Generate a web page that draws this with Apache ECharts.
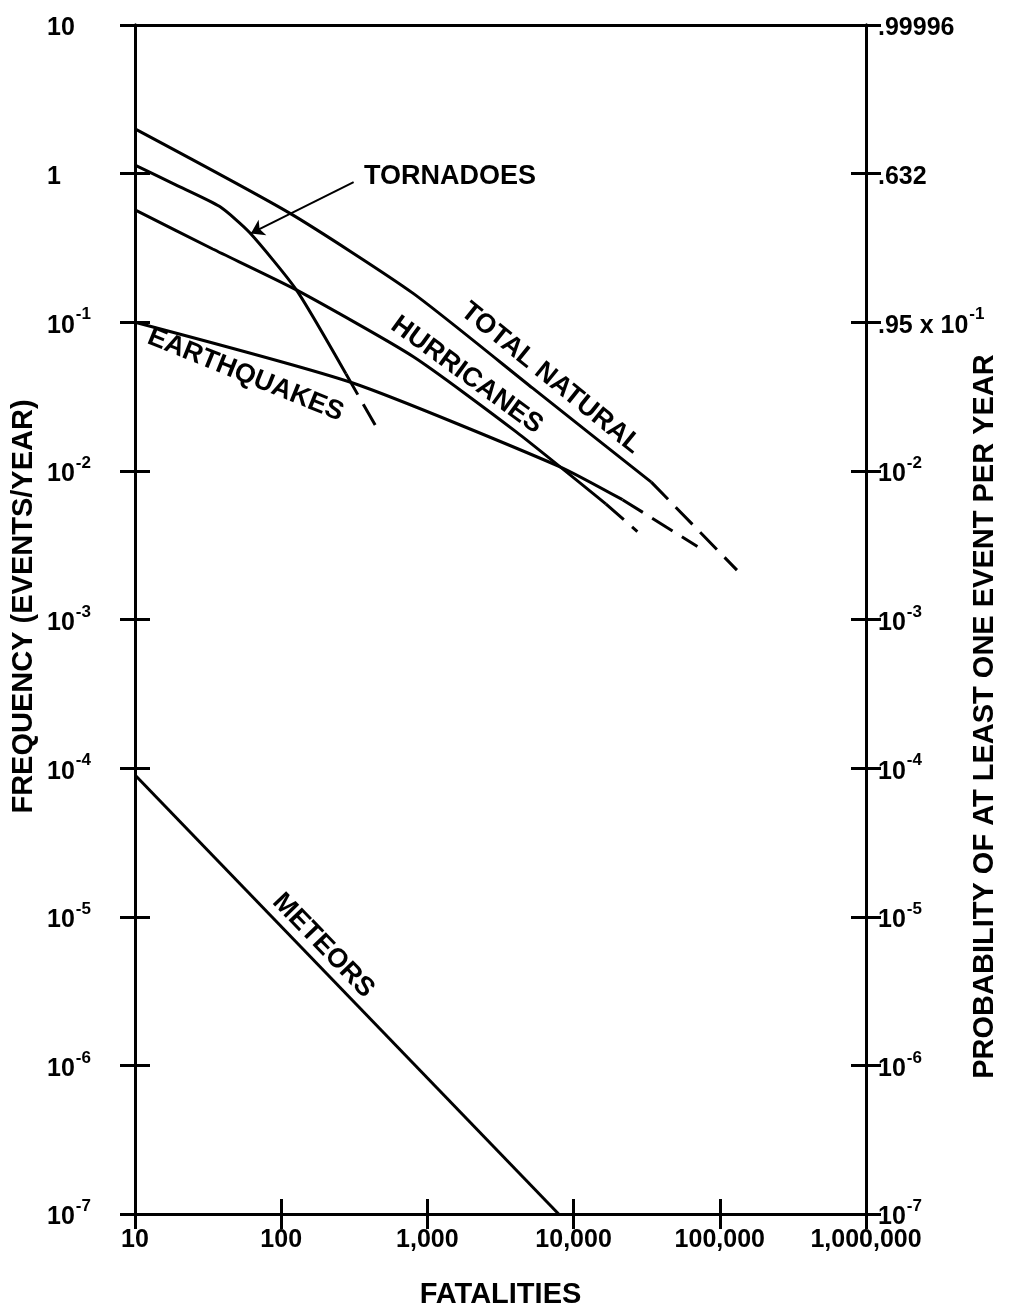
<!DOCTYPE html>
<html>
<head>
<meta charset="utf-8">
<script src="https://cdn.jsdelivr.net/npm/echarts@6/dist/echarts.min.js"></script>
<style>
  html, body { margin: 0; padding: 0; background: #fff; }
  #chart { width: 1020px; height: 1310px; }
</style>
</head>
<body>
<div id="chart"></div>
<script>
// fatalities (x) vs frequency in events/year (y)
const totalNaturalSolid = [[10, 2.0], [115, 0.54], [795, 0.157], [5250, 0.036], [34000, 0.0084]];
const totalNaturalDashed = [[34000, 0.0084], [131000, 0.00215]];
const tornadoesSolid = [[10, 1.14], [19, 0.84], [38, 0.6], [61, 0.4], [127, 0.165], [277, 0.045]];
const tornadoesDashed = [[277, 0.045], [453, 0.0193]];
const hurricanesSolid = [[10, 0.57], [34, 0.311], [127, 0.165], [802, 0.0586], [4050, 0.0183], [16600, 0.006]];
const hurricanesDashed = [[16600, 0.006], [27300, 0.0039]];
const earthquakesSolid = [[10, 0.1], [309, 0.039], [8000, 0.0107], [21600, 0.0064]];
const earthquakesDashed = [[21600, 0.0064], [70300, 0.0031]];
const meteors = [[10, 9e-5], [7900, 1e-7]];

const xTickLabels = ['10', '100', '1,000', '10,000', '100,000', '1,000,000'];
const rightTickLabels = {
  '1': '{b|.99996}',
  '0': '{b|.632}',
  '-1': '{b|.95 x 10}{s|-1}'
};

// curve names placed along the curves
const curveNames = [
  { name: 'TOTAL NATURAL', at: [7000, 0.042], rotate: -39 },
  { name: 'HURRICANES', at: [1860, 0.044], rotate: -36 },
  { name: 'EARTHQUAKES', at: [57, 0.0442], rotate: -22 },
  { name: 'METEORS', at: [194, 6.4e-6], rotate: -46 },
  { name: 'TORNADOES', at: [369, 0.95], rotate: 0 }
];
const tornadoArrow = [[313, 0.877], [62, 0.396]];

const FONT = 'Liberation Sans';
const black = '#000';
const lineW = 3;

const rich = {
  b: { fontFamily: FONT, fontWeight: 'bold', fontSize: 25, color: black, lineHeight: 32, verticalAlign: 'bottom' },
  s: { fontFamily: FONT, fontWeight: 'bold', fontSize: 17, color: black, lineHeight: 32, verticalAlign: 'top', padding: [0, 0, 0, 1] }
};

function exp10(v) { return Math.round(Math.log10(v)); }

function leftLabel(v) {
  const e = exp10(v);
  if (e === 1) return '{b|10}';
  if (e === 0) return '{b|1}';
  return '{b|10}{s|' + e + '}';
}
function rightLabel(v) {
  const e = exp10(v);
  return rightTickLabels[String(e)] || '{b|10}{s|' + e + '}';
}

function yAx(position, showLabel, inside) {
  return {
    type: 'log', logBase: 10, min: 1e-7, max: 10, interval: 1,
    position: position,
    nameMoveOverlap: false,
    axisLine: { show: true, lineStyle: { color: black, width: lineW } },
    axisTick: { show: true, inside: inside, length: 15, lineStyle: { color: black, width: 3 } },
    splitLine: { show: false },
    minorTick: { show: false },
    axisLabel: showLabel ? {
      show: true,
      formatter: position === 'left' ? leftLabel : rightLabel,
      rich: rich,
      align: 'left',
      margin: position === 'left' ? 88 : 12
    } : { show: false }
  };
}

function xAx(position, showLabel, inside, showTicks) {
  return {
    type: 'log', logBase: 10, min: 10, max: 1e6, interval: 1,
    position: position,
    nameMoveOverlap: false,
    axisLine: { show: true, onZero: false, lineStyle: { color: black, width: lineW } },
    axisTick: { show: showTicks, inside: inside, length: 15, lineStyle: { color: black, width: 3 } },
    splitLine: { show: false },
    axisLabel: showLabel ? {
      show: true,
      margin: 14,
      fontFamily: FONT, fontWeight: 'bold', fontSize: 25, color: black,
      formatter: function (v) { return xTickLabels[exp10(v) - 1]; }
    } : { show: false }
  };
}

function curve(data, dashed) {
  return {
    type: 'line', data: data, xAxisIndex: 0, yAxisIndex: 0,
    showSymbol: false, symbol: 'none',
    smooth: data.length > 2 ? 0.2 : false,
    silent: true,
    lineStyle: { color: black, width: lineW, type: dashed ? [24, 11] : 'solid', cap: 'butt' },
    z: 3
  };
}

const chart = echarts.init(document.getElementById('chart'), null, { renderer: 'canvas' });

const option = {
  animation: false,
  backgroundColor: '#fff',
  grid: { left: 135, right: 154, top: 25, bottom: 96, containLabel: false, outerBoundsMode: 'none' },
  xAxis: [
    Object.assign(xAx('bottom', true, false, true), {
      name: 'FATALITIES', nameLocation: 'middle', nameGap: 66,
      nameTextStyle: { fontFamily: FONT, fontWeight: 'bold', fontSize: 29, color: black }
    }),
    xAx('bottom', false, true, true),
    xAx('top', false, false, false)
  ],
  yAxis: [
    Object.assign(yAx('left', true, false), {
      name: 'FREQUENCY (EVENTS/YEAR)', nameLocation: 'middle', nameGap: 97, nameRotate: 90,
      nameTextStyle: { fontFamily: FONT, fontWeight: 'bold', fontSize: 29, color: black, padding: [0, 0, 0, 26] }
    }),
    Object.assign(yAx('right', true, false), {
      name: 'PROBABILITY OF AT LEAST ONE EVENT PER YEAR', nameLocation: 'middle', nameGap: 104, nameRotate: 90,
      nameTextStyle: { fontFamily: FONT, fontWeight: 'bold', fontSize: 29, color: black, padding: [0, 194, 0, 0] }
    }),
    yAx('left', false, true),
    yAx('right', false, true)
  ],
  series: [
    curve(totalNaturalSolid, false),
    curve(totalNaturalDashed, true),
    Object.assign(curve(tornadoesSolid, false), {
      markLine: {
        silent: true, animation: false,
        symbol: ['none', 'arrow'], symbolSize: 13,
        label: { show: false },
        emphasis: { disabled: true },
        lineStyle: { color: black, width: 2, type: 'solid', opacity: 1 },
        data: [[{ coord: tornadoArrow[0] }, { coord: tornadoArrow[1] }]]
      }
    }),
    curve(tornadoesDashed, true),
    curve(hurricanesSolid, false),
    curve(hurricanesDashed, true),
    curve(earthquakesSolid, false),
    curve(earthquakesDashed, true),
    curve(meteors, false),
    {
      type: 'scatter', xAxisIndex: 0, yAxisIndex: 0, symbolSize: 0, silent: true, z: 4,
      itemStyle: { opacity: 1, color: black },
      data: curveNames.map(function (c) {
        return {
          name: c.name, value: c.at,
          label: {
            show: true, formatter: '{b}', position: 'inside',
            rotate: c.rotate,
            align: c.rotate === 0 ? 'left' : 'center',
            verticalAlign: 'middle',
            fontFamily: FONT, fontWeight: 'bold', fontSize: 27, color: black,
            textBorderWidth: 0, textShadowBlur: 0
          }
        };
      })
    }
  ]
};

chart.setOption(option);
</script>
</body>
</html>
